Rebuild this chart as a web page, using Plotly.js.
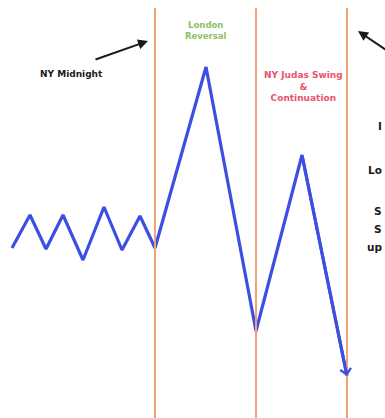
<!DOCTYPE html>
<html>
<head>
<meta charset="utf-8">
<script src="https://cdn.plot.ly/plotly-3.0.1.min.js"></script>
<style>html,body{margin:0;padding:0;background:#fff;}#chart{width:385px;height:418px;}</style>
</head>
<body>
<div id="chart"></div>
<script>
// Price path (time index vs price level)
var timeIdx = [12, 30, 46, 63, 83, 104, 122, 140, 155, 206, 256, 302, 347];
var price   = [170, 203, 169, 203, 158, 211, 168, 202, 170, 351, 87, 263, 42];

// Session boundaries (time index)
var sessionBounds = [155, 256, 347];
var boundTop = 410;

// Session labels
var londonLabel = "<b>London<br>Reversal</b>";
var judasLabel = "<b>NY Judas Swing<br>&amp;<br>Continuation</b>";
var midnightLabel = "<b>NY Midnight</b>";
var sideWords = ["I", "Lo", "S", "S", "up"];
var sideWordY = [292, 248, 207, 189, 171];

var FONT = "DejaVu Sans, sans-serif";
var BLUE = "#3d4fe2";
var ORANGE = "#f0a475";

var traces = [{
  x: timeIdx, y: price, type: "scatter", mode: "lines",
  line: {color: BLUE, width: 3.2, shape: "linear"},
  hoverinfo: "skip"
}];

var shapes = sessionBounds.map(function (b) {
  return {type: "line", xref: "x", yref: "y", x0: b, x1: b, y0: 0, y1: boundTop,
          line: {color: ORANGE, width: 2}};
});

var n = timeIdx.length;
var annotations = [
  {x: 206, y: 388, xref: "x", yref: "y", text: londonLabel, showarrow: false,
   font: {family: FONT, size: 8.5, color: "#8cc063"}, align: "center"},
  {x: 303, y: 332, xref: "x", yref: "y", text: judasLabel, showarrow: false,
   font: {family: FONT, size: 9, color: "#e8546a"}, align: "center"},
  {x: 71, y: 344, xref: "x", yref: "y", text: midnightLabel, showarrow: false,
   font: {family: FONT, size: 9, color: "#1a1a1a"}},
  // arrow toward midnight line
  {x: 148, y: 377, ax: 94, ay: 358, xref: "x", yref: "y", axref: "x", ayref: "y",
   text: "", showarrow: true, arrowhead: 2, arrowsize: 1, arrowwidth: 2, arrowcolor: "#1a1a1a"},
  // arrow from right edge
  {x: 358, y: 387, ax: 392, ay: 364, xref: "x", yref: "y", axref: "x", ayref: "y",
   text: "", showarrow: true, arrowhead: 2, arrowsize: 1, arrowwidth: 2, arrowcolor: "#1a1a1a"},
  // end arrowhead of price path
  {x: timeIdx[n - 1], y: price[n - 1], ax: timeIdx[n - 2], ay: price[n - 2],
   xref: "x", yref: "y", axref: "x", ayref: "y",
   text: "", showarrow: true, arrowhead: 4, arrowsize: 0.7, arrowwidth: 3, arrowcolor: BLUE}
];
sideWords.forEach(function (w, i) {
  annotations.push({x: 385, y: sideWordY[i], xref: "x", yref: "y", text: "<b>" + w + "</b>",
    showarrow: false, xanchor: "right", xshift: -1, font: {family: FONT, size: 10.5, color: "#1a1a1a"}});
});

var layout = {
  width: 385, height: 418,
  margin: {l: 0, r: 0, t: 0, b: 0},
  paper_bgcolor: "#ffffff", plot_bgcolor: "#ffffff",
  showlegend: false,
  xaxis: {range: [0, 385], visible: false, fixedrange: true},
  yaxis: {range: [0, 418], visible: false, fixedrange: true},
  shapes: shapes,
  annotations: annotations
};

Plotly.newPlot("chart", traces, layout, {displayModeBar: false, staticPlot: true});
</script>
</body>
</html>
